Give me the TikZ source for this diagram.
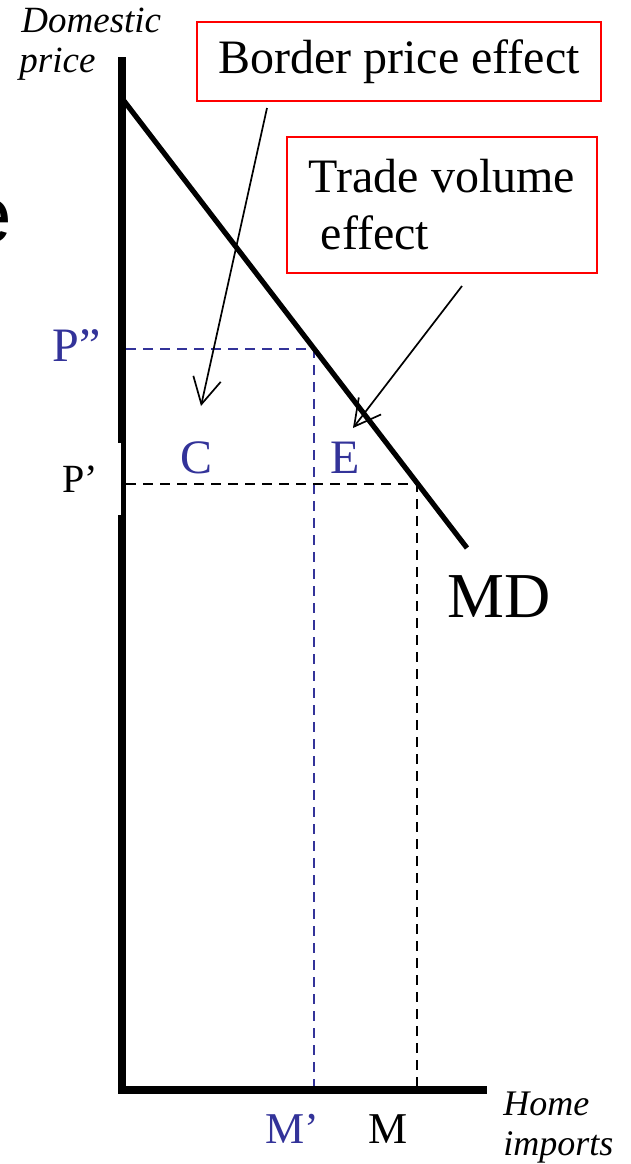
\documentclass[tikz,border=0pt]{standalone}
\usepackage{fontspec}
\setmainfont{Liberation Serif}
\newfontfamily\arialfont{Liberation Sans}
\usepackage{tikz}
\usetikzlibrary{arrows.meta, positioning, calc}
\definecolor{lblblue}{RGB}{51,51,153}
\definecolor{boxred}{RGB}{255,0,0}
\tikzset{
	axisline/.style={line width=3.75pt, line join=miter},
	mdline/.style={line width=2.6pt},
	guide/.style={line width=0.75pt, dash pattern=on 5pt off 3.5pt},
	effbox/.style={draw=boxred, line width=1pt, inner sep=0pt, font=\fontsize{24}{28.5}\selectfont},
	pointer/.style={line width=0.85pt, -{Straight Barb[length=13pt,width=14pt,line width=0.85pt]}},
	lbl/.style={inner sep=0pt, anchor=base west}
}

\begin{document}
\begin{tikzpicture}[x=0.5pt,y=-0.5pt]
	\useasboundingbox (0,0) rectangle (631,1164);
	% axes
	\draw[axisline] (122,57) |- (487,1090);
	% guide lines
	\coordinate (pdd) at (314,349);
	\coordinate (pd) at (417,484);
	\coordinate (mdd) at (314,1086);
	\coordinate (md) at (417,1086);
	\draw[guide, lblblue] (126,349) -- (pdd) -- (mdd);
	\draw[guide] (126,484) -- (pd) -- (md);
	% import demand
	\coordinate (mdtop) at (121,97);
	\coordinate (mdend) at (467,548);
	\draw[mdline] (mdtop) -- (mdend);
	\node[lbl, font=\fontsize{32}{32}\selectfont] (mdlbl) at (447,617) {MD};
	% labels on the axes
	\node[fill=white, anchor=east, minimum height=36pt, inner ysep=0pt, inner xsep=11.5pt,
		font=\fontsize{20}{20}\selectfont] (pone) at (121.5,479) {P'};
	\node[lbl, lblblue, font=\fontsize{24}{24}\selectfont] (ptwo) at (52,361) {P''};
	\node[lbl, lblblue, font=\fontsize{24}{24}\selectfont] (clbl) at (180,473) {C};
	\node[lbl, lblblue, font=\fontsize{24}{24}\selectfont] (elbl) at (330,473) {E};
	\node[lbl, lblblue, font=\fontsize{22}{22}\selectfont] (mtwo) at (265,1143) {M'};
	\node[lbl, font=\fontsize{22}{22}\selectfont] (mone) at (368,1143) {M};
	\node[lbl, font=\fontsize{18.5}{18.5}\selectfont\itshape] (dom) at (21,32) {Domestic};
	\node[lbl, font=\fontsize{18.5}{18.5}\selectfont\itshape] (pri) at (19,72) {price};
	\node[lbl, font=\fontsize{18}{18}\selectfont\itshape] (hom) at (503,1115) {Home};
	\node[lbl, font=\fontsize{18}{18}\selectfont\itshape] (imp) at (503,1155) {imports};
	\node[inner sep=0pt, anchor=base east, font=\arialfont\fontsize{40}{40}\selectfont] (cutword) at (12,242) {e};
	% effect boxes
	\node[effbox, minimum width=202pt, minimum height=39.5pt] (bpe) at (399,61.5) {Border price effect};
	\node[effbox, minimum width=155pt, minimum height=68pt, align=left] (tve) at (442,205) {Trade volume\\\ effect};
	\coordinate (bpetail) at ($(bpe.south west)+(71,6)$);
	\coordinate (ctip) at (201,406);
	\coordinate (tvetail) at ($(tve.south west)+(176,12)$);
	\coordinate (etip) at (353,428);
	\draw[pointer] (bpetail) -- (ctip);
	\draw[pointer] (tvetail) -- (etip);
\end{tikzpicture}
\end{document}
